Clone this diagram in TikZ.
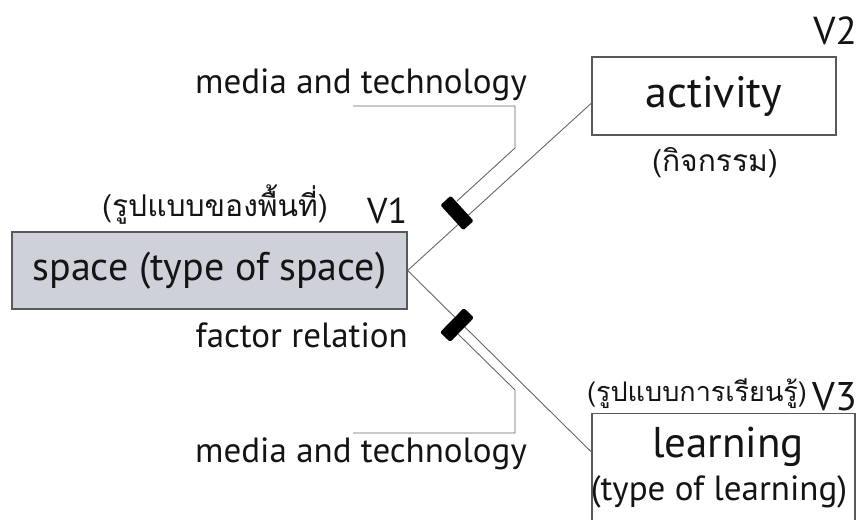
\documentclass[tikz,border=0pt]{standalone}
\usepackage{fontspec}
\setmainfont{PT Sans}
\newfontfamily\thaifont[Script=Thai]{Loma}
\usepackage{xcolor}
\usepackage{tikz}
\usetikzlibrary{positioning,calc}
\definecolor{spacefill}{RGB}{206,209,218}

\begin{document}
\begin{tikzpicture}[
    x=1pt, y=-1pt,
    box/.style={rectangle, draw=black!65, line width=1.2pt, fill=white, inner sep=0pt, align=center, text=black!92},
    tag/.style={inner sep=0pt, text=black!92},
    link/.style={draw=black!60, line width=0.9pt},
    marker/.style={rectangle, fill=black, rounded corners=1.5pt, minimum width=14pt, minimum height=34pt, inner sep=0pt}
]
    \useasboundingbox (0,0) rectangle (861,519);
    \clip (0,0) rectangle (861,519);

    % Nodes
    \node[box, fill=spacefill, minimum width=395pt, minimum height=77pt, font=\fontsize{40}{40}\selectfont] (space) at (209.5,270.5) {space (type of space)};
    \node[box, minimum width=244pt, minimum height=78pt, font=\fontsize{44}{44}\selectfont] (act) at (714,96) {activity};
    \node[box, anchor=north, minimum width=263pt, minimum height=130pt] (lrn) at (723.5,413) {};
    \node[tag, anchor=base, font=\fontsize{43}{43}\selectfont] (lrnmain) at (728,457) {learning};
    \node[tag, anchor=base, font=\fontsize{35}{35}\selectfont] (lrnsub) at (719,500) {(type of learning)};

    % Lines
    \draw[link] (space.east) -- ($(act.south west)!0.41!(act.north west)$);
    \draw[link] (space.east) -- ([yshift=-39pt]lrn.north west);

    % Media leaders
    \coordinate (mu0) at (353,106);
    \coordinate (mu1) at (515,106);
    \coordinate (mu2) at (515,148);
    \coordinate (mu3) at (457,201);
    \coordinate (ml0) at (353,433);
    \coordinate (ml1) at (515,433);
    \coordinate (ml2) at (515,390);
    \coordinate (ml3) at (457,333);
    \draw[link] (mu0) -- (mu1) -- (mu2) -- (mu3);
    \draw[link] (ml0) -- (ml1) -- (ml2) -- (ml3);
    \node[marker, rotate=42.2] (mku) at (457,213) {};
    \node[marker, rotate=-44.5] (mkl) at (457,325) {};

    % Labels
    \node[tag, anchor=base west, font=\fontsize{35}{35}\selectfont] (medu) at (195,93) {media and technology};
    \node[tag, anchor=base west, font=\fontsize{35}{35}\selectfont] (medl) at (195,462) {media and technology};
    \node[tag, anchor=base east, font=\fontsize{35}{35}\selectfont] (fac) at (408,347) {factor relation};
    \node[tag, anchor=base west, font=\fontsize{36}{36}\selectfont] (v1) at (367,223) {V1};
    \node[tag, anchor=base east, font=\fontsize{39}{39}\selectfont] (v2) at (857,45) {V2};
    \node[tag, anchor=base east, font=\fontsize{40}{40}\selectfont] (v3) at (857,410) {V3};
    \node[tag, anchor=base, font=\thaifont\fontsize{30}{30}\selectfont] (thsp) at (215,216) {(รูปแบบของพื้นที่)};
    \node[tag, anchor=base, font=\thaifont\fontsize{30}{30}\selectfont] (thact) at (715,171) {(กิจกรรม)};
    \node[tag, anchor=base, font=\thaifont\fontsize{27}{27}\selectfont] (thlrn) at (697,401) {(รูปแบบการเรียนรู้)};
\end{tikzpicture}
\end{document}
